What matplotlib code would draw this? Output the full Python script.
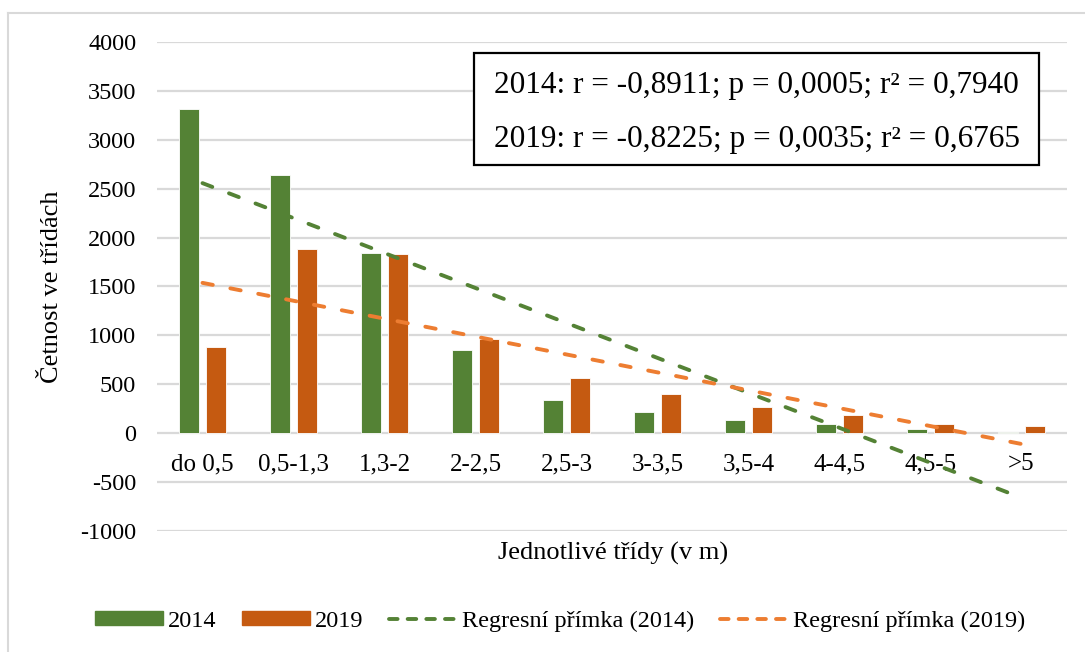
import numpy as np
import matplotlib
matplotlib.use("Agg")
from matplotlib import pyplot as plt
from matplotlib.patches import Rectangle
from matplotlib.lines import Line2D

plt.rcParams['font.family'] = ['Liberation Serif', 'DejaVu Serif']

# data
categories = ["do 0,5", "0,5-1,3", "1,3-2", "2-2,5", "2,5-3", "3-3,5", "3,5-4", "4-4,5", "4,5-5", ">5"]
values_2014 = [3320, 2640, 1840, 850, 340, 220, 130, 90, 40, 15]
values_2019 = [880, 1880, 1830, 960, 560, 400, 270, 190, 90, 75]
stats_lines = ["2014: r = -0,8911; p = 0,0005; r² = 0,7940",
               "2019: r = -0,8225; p = 0,0035; r² = 0,6765"]
yticks = [-1000, -500, 0, 500, 1000, 1500, 2000, 2500, 3000, 3500, 4000]

GREEN = "#548235"
ORANGE = "#C55A11"
ORANGE_LINE = "#ED7D31"
GRID = "#D9D9D9"
DASH = (2.7, 4.6)
LW = 2.8

W, H = 1085, 652
fig = plt.figure(figsize=(W / 100, H / 100), dpi=100)
ax = fig.add_axes([157 / W, 1 - 531 / H, (1067 - 157) / W, (531 - 42) / H])

x = np.arange(len(categories))
bw = 0.22
off = 0.143
ax.bar(x - off, values_2014, bw, color=GREEN, edgecolor="white", linewidth=0.6, zorder=3)
ax.bar(x + off, values_2019, bw, color=ORANGE, edgecolor="white", linewidth=0.6, zorder=3)

# regression lines (least squares fit on category index)
xf = x + 1
for vals, col in [(values_2014, GREEN), (values_2019, ORANGE_LINE)]:
    k, q = np.polyfit(xf, vals, 1)
    ax.plot(x, k * xf + q, color=col, lw=LW, dashes=DASH,
            dash_capstyle="round", zorder=4)

ax.set_xlim(-0.5, 9.5)
ax.set_ylim(-1000, 4000)
ax.set_yticks(yticks)
ax.set_yticklabels([str(v) for v in yticks], fontsize=17.5)
ax.tick_params(axis="y", length=0, pad=15)
ax.set_xticks([])
for s in ax.spines.values():
    s.set_visible(False)
ax.grid(axis="y", color=GRID, lw=1.6, zorder=0)
ax.set_axisbelow(True)

for i, c in enumerate(categories):
    ax.text(i, -315, c, ha="center", va="center", fontsize=18)

fig.text(613 / W, 1 - 553 / H, "Jednotlivé třídy (v m)", ha="center", va="center", fontsize=19)
fig.text(52 / W, 1 - 287 / H, "Četnost ve třídách", ha="center", va="center",
         rotation=90, fontsize=19)

# stats box
fig.patches.append(Rectangle((474 / W, 1 - 165 / H), (1039 - 474) / W, (165 - 53) / H,
                             transform=fig.transFigure, fill=True, facecolor="white",
                             edgecolor="black", lw=1.6, zorder=5))
fig.text(494 / W, 1 - 86 / H, stats_lines[0], ha="left", va="center", fontsize=22.5, zorder=6)
fig.text(494 / W, 1 - 139 / H, stats_lines[1], ha="left", va="center", fontsize=22.5, zorder=6)

# outer chart border
fig.add_artist(Line2D([8 / W, 8 / W], [0, 1 - 13 / H], transform=fig.transFigure, color=GRID, lw=1.5))
fig.add_artist(Line2D([8 / W, 1], [1 - 13 / H, 1 - 13 / H], transform=fig.transFigure, color=GRID, lw=1.5))

handles = [
    Rectangle((0, 0), 1, 1, color=GREEN),
    Rectangle((0, 0), 1, 1, color=ORANGE),
    Line2D([], [], color=GREEN, lw=LW, dashes=(2.2, 2.6), dash_capstyle="round"),
    Line2D([], [], color=ORANGE_LINE, lw=LW, dashes=(2.2, 2.6), dash_capstyle="round"),
]
labels = ["2014", "2019", "Regresní přímka (2014)", "Regresní přímka (2019)"]
fig.legend(handles, labels, loc="center", bbox_to_anchor=(560 / W, 1 - 621 / H), ncol=4,
           frameon=False, fontsize=17.5, handlelength=2.8, handleheight=0.5,
           handletextpad=0.2, columnspacing=1.05)

fig.savefig("out.png", dpi=100)
